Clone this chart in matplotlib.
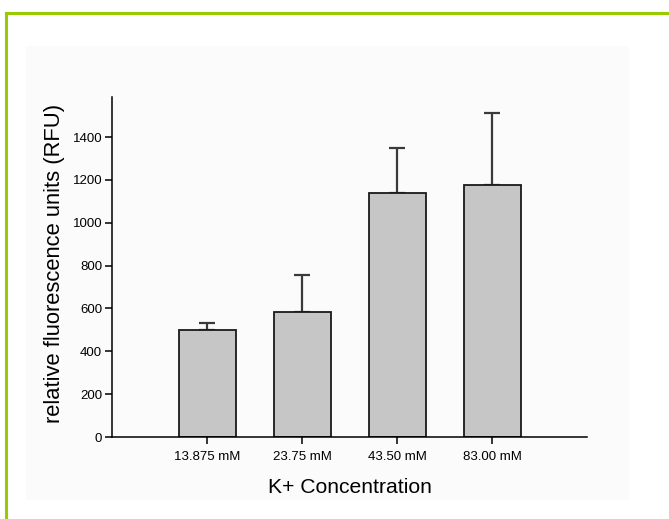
import matplotlib.pyplot as plt
from matplotlib.patches import Rectangle
from matplotlib.lines import Line2D

plt.rcParams['font.family'] = ['Liberation Sans', 'DejaVu Sans']

# data
concentrations = ['13.875 mM', '23.75 mM', '43.50 mM', '83.00 mM']
rfu_mean = [499, 585, 1137, 1174]
rfu_err = [32, 172, 213, 336]

fig = plt.figure(figsize=(6.69, 5.19), dpi=100)
fig.patch.set_facecolor('white')

# green frame (top and left edges visible)
fig.add_artist(Line2D([5.5 / 669, 1.0], [1 - 12.5 / 519, 1 - 12.5 / 519],
                      transform=fig.transFigure, color='#99cc00', lw=2.2))
fig.add_artist(Line2D([5.5 / 669, 5.5 / 669], [0, 1 - 12.5 / 519],
                      transform=fig.transFigure, color='#99cc00', lw=2.2))
# faint grey panel behind the chart
fig.add_artist(Rectangle((26 / 669, 1 - 500 / 519), (629 - 26) / 669, (500 - 46) / 519,
                         transform=fig.transFigure, facecolor='#fbfbfb',
                         edgecolor='none', zorder=0))

ax = fig.add_axes([112 / 669, 1 - 437 / 519, 475 / 669, 340 / 519])
ax.set_facecolor('none')

x = range(len(concentrations))
ax.bar(x, rfu_mean, width=0.6, color='#c6c6c6', edgecolor='#1a1a1a', linewidth=1.3, zorder=2)
ax.errorbar(x, rfu_mean, yerr=[[0] * len(rfu_err), rfu_err], fmt='none',
            ecolor='#3a3a3a', elinewidth=1.6, capsize=5.5, capthick=1.6, zorder=1)

ax.set_xlim(-1, 4)
ax.set_ylim(0, 1587)
ax.set_yticks(range(0, 1401, 200))
ax.set_xticks(list(x))
ax.set_xticklabels(concentrations)

for side in ['top', 'right']:
    ax.spines[side].set_visible(False)
for side in ['left', 'bottom']:
    ax.spines[side].set_linewidth(1.1)
    ax.spines[side].set_color('black')

ax.tick_params(axis='both', direction='out', length=5, width=1.1, labelsize=9.5, colors='black')
ax.tick_params(axis='x', pad=5)
ax.tick_params(axis='y', pad=2)

ax.set_xlabel('K+ Concentration', fontsize=15.2)
ax.set_ylabel('relative fluorescence units (RFU)', fontsize=15.8)
ax.xaxis.set_label_coords(0.5, -0.121)
ax.yaxis.set_label_coords(-0.099, 0.51)

fig.savefig('out.png', dpi=100, facecolor='white')
